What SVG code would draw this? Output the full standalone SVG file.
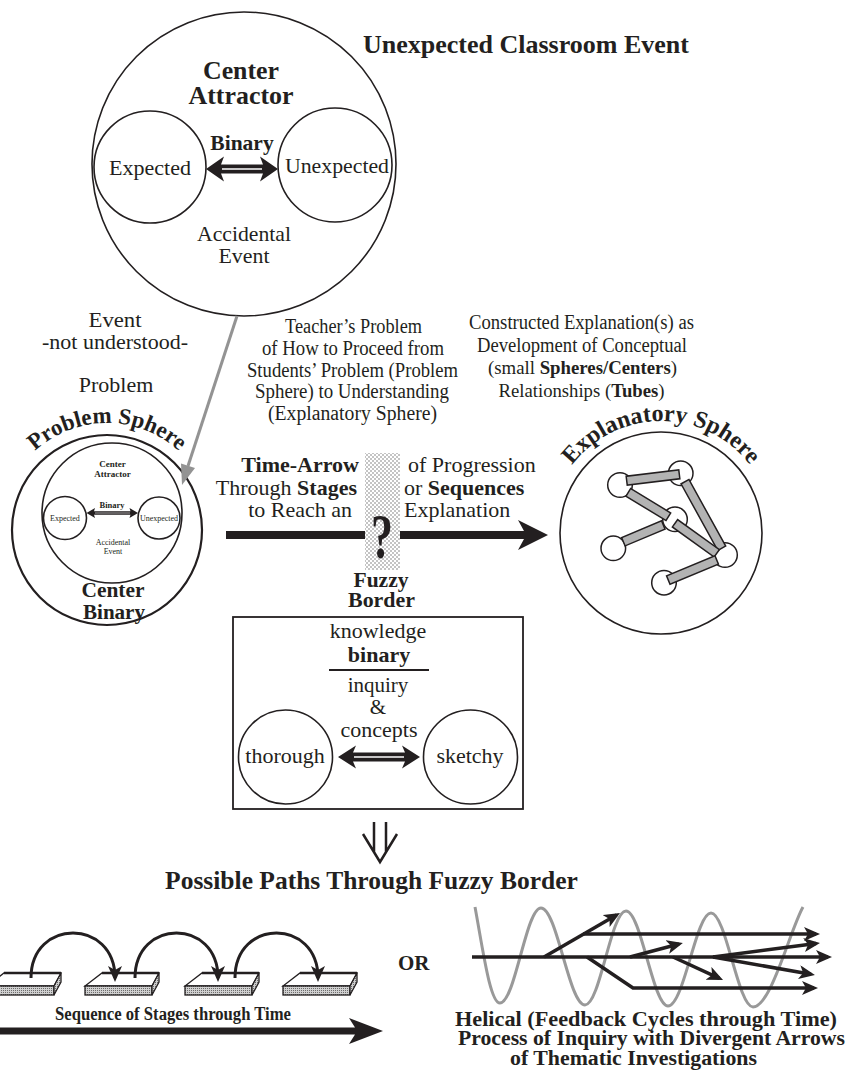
<svg xmlns="http://www.w3.org/2000/svg" width="849" height="1075" viewBox="0 0 849 1075">
<defs>
<style>
text{font-family:"Liberation Serif","Times New Roman",serif;fill:#231f20}
.b{font-weight:bold}
.m{text-anchor:middle}
.e{text-anchor:end}
.ln{fill:none;stroke:#231f20;stroke-width:1.6}
.blk{fill:#231f20}
.wl{stroke:#fff;fill:none}
.tube{fill:#b3b3b3;stroke:#231f20;stroke-width:1.5}
.node{fill:#fff;stroke:#231f20;stroke-width:1.5}
.harrow{fill:none;stroke:#231f20;stroke-width:3.5;marker-end:url(#ah)}
.slabtop{fill:#fff;stroke:#231f20;stroke-width:1.3}
.slabface{fill:url(#hatch);stroke:#231f20;stroke-width:1.3}
.d{font-size:20px}
</style>
<marker id="ah" markerUnits="userSpaceOnUse" markerWidth="18" markerHeight="16" refX="12" refY="7" orient="auto"><path d="M0,0 L16,7 L0,14 L4,7 Z" fill="#231f20"/></marker>
<pattern id="dots" width="4" height="4" patternUnits="userSpaceOnUse"><rect width="4" height="4" fill="#fff"/><circle cx="1" cy="1" r="0.8" fill="#7a7a7a"/><circle cx="3" cy="3" r="0.8" fill="#7a7a7a"/></pattern>
<pattern id="hatch" width="2" height="2" patternUnits="userSpaceOnUse"><rect width="2" height="2" fill="#d0d0d0"/><rect width="1" height="1" fill="#6d6d6d"/></pattern>
<path id="psArc" d="M 0 530 A 107 107 0 0 1 214 530"/>
<path id="esArc" d="M 549 533 A 112 112 0 0 1 773 533"/>
<g id="slab">
<polygon class="slabtop" points="17,973 74,973 67,986 0,986"/>
<rect class="slabface" x="0" y="986" width="67" height="9"/>
<polygon class="slabface" points="67,986 74,973 74,982 67,995"/>
<line x1="17" y1="973" x2="74" y2="973" stroke="#231f20" stroke-width="2.6"/>
</g>
</defs>
<rect width="849" height="1075" fill="#fff"/>

<text x="363" y="53" class="b" font-size="26">Unexpected Classroom Event</text>

<g id="event-circle">
<circle cx="244" cy="164" r="152" class="ln"/>
<circle cx="150" cy="167" r="56" class="ln"/>
<circle cx="335" cy="165" r="57" class="ln"/>
<text x="241" y="79" class="b m" font-size="25" textLength="76" lengthAdjust="spacingAndGlyphs">Center</text>
<text x="241" y="104" class="b m" font-size="25" textLength="105" lengthAdjust="spacingAndGlyphs">Attractor</text>
<text x="242" y="150" class="b m" font-size="21.5">Binary</text>
<text x="150" y="175" class="m" font-size="22">Expected</text>
<text x="337" y="173" class="m" font-size="22" textLength="104" lengthAdjust="spacingAndGlyphs">Unexpected</text>
<text x="244" y="241" class="m" font-size="21" textLength="94" lengthAdjust="spacingAndGlyphs">Accidental</text>
<text x="244" y="263" class="m" font-size="21" textLength="51" lengthAdjust="spacingAndGlyphs">Event</text>
<polygon class="blk" points="206,169 224,156.5 221,164.5 263,164.5 260,156.5 278,169 260,181.5 263,173.5 221,173.5 224,181.5"/>
<path class="wl" d="M222 169 H262" stroke-width="1.5"/>
</g>

<g id="problem-labels">
<text x="115" y="327" class="m" font-size="21" textLength="53" lengthAdjust="spacingAndGlyphs">Event</text>
<text x="115" y="349" class="m" font-size="21" textLength="146" lengthAdjust="spacingAndGlyphs">-not understood-</text>
<text x="116" y="392" class="m" font-size="22">Problem</text>
</g>

<g id="teacher-problem">
<text class="m d" x="353.5" y="333" textLength="137" lengthAdjust="spacingAndGlyphs">Teacher’s Problem</text>
<text class="m d" x="353" y="355" textLength="182" lengthAdjust="spacingAndGlyphs">of How to Proceed from</text>
<text class="m d" x="352.5" y="377" textLength="211" lengthAdjust="spacingAndGlyphs">Students’ Problem (Problem</text>
<text class="m d" x="352" y="398" textLength="194" lengthAdjust="spacingAndGlyphs">Sphere) to Understanding</text>
<text class="m d" x="352.5" y="420" textLength="169" lengthAdjust="spacingAndGlyphs">(Explanatory Sphere)</text>
</g>

<g id="constructed-explanation">
<text class="m d" x="581.5" y="329" textLength="225" lengthAdjust="spacingAndGlyphs">Constructed Explanation(s) as</text>
<text class="m d" x="582" y="352" textLength="210" lengthAdjust="spacingAndGlyphs">Development of Conceptual</text>
<text class="m" font-size="18.8" x="582.5" y="374">(small <tspan class="b">Spheres/Centers</tspan>)</text>
<text class="m" font-size="18.7" x="581.5" y="397">Relationships (<tspan class="b">Tubes</tspan>)</text>
</g>

<g id="problem-sphere">
<circle cx="107" cy="530" r="95" fill="none" stroke="#231f20" stroke-width="2.2"/>
<text class="b" font-size="23"><textPath href="#psArc" startOffset="50%" text-anchor="middle">Problem Sphere</textPath></text>
<circle cx="112" cy="513" r="70" class="ln" stroke-width="1.3"/>
<circle cx="65" cy="518" r="21.5" class="ln" stroke-width="1.1"/>
<circle cx="159" cy="518" r="21" class="ln" stroke-width="1.1"/>
<text x="112.5" y="467" class="b m" font-size="9">Center</text>
<text x="112.5" y="477" class="b m" font-size="9">Attractor</text>
<text x="112" y="508" class="b m" font-size="8.5">Binary</text>
<text x="65" y="521" class="m" font-size="8">Expected</text>
<text x="159" y="521" class="m" font-size="8">Unexpected</text>
<text x="113" y="545" class="m" font-size="8">Accidental</text>
<text x="113" y="554" class="m" font-size="8">Event</text>
<polygon class="blk" points="86.5,513 95,508 94,511.2 130.5,511.2 129.5,508 138,513 129.5,518 130.5,514.8 94,514.8 95,518"/>
<path class="wl" d="M95 513 H130" stroke-width="0.6"/>
<text x="113" y="597" class="b m" font-size="20" textLength="63" lengthAdjust="spacingAndGlyphs">Center</text>
<text x="114" y="619" class="b m" font-size="20" textLength="62" lengthAdjust="spacingAndGlyphs">Binary</text>
</g>

<g id="explanatory-sphere">
<circle cx="661" cy="533" r="101" class="ln"/>
<text class="b" font-size="24"><textPath href="#esArc" startOffset="50%" text-anchor="middle">Explanatory Sphere</textPath></text>
<circle class="node" cx="620" cy="485" r="12.3"/>
<circle class="node" cx="680.7" cy="473.3" r="12.3"/>
<circle class="node" cx="675" cy="519.3" r="12.3"/>
<circle class="node" cx="613.3" cy="548.3" r="12.3"/>
<circle class="node" cx="725" cy="555" r="12.3"/>
<circle class="node" cx="664" cy="582.7" r="12.3"/>
<rect class="tube" x="0" y="-4.5" width="53" height="9" transform="translate(626.7 480.7) rotate(-6.94)"/>
<rect class="tube" x="0" y="-4.5" width="46.9" height="9" transform="translate(628.3 492.3) rotate(31.4)"/>
<rect class="tube" x="0" y="-4.5" width="76" height="9" transform="translate(685 481.7) rotate(61.1)"/>
<rect class="tube" x="0" y="-4.5" width="43.3" height="9" transform="translate(663.3 525) rotate(157.3)"/>
<rect class="tube" x="0" y="-4.5" width="51.4" height="9" transform="translate(675 523.3) rotate(35.7)"/>
<rect class="tube" x="0" y="-4.5" width="52.4" height="9" transform="translate(716.7 560) rotate(157.5)"/>
</g>

<g id="connectors">
<line x1="237" y1="316" x2="188" y2="466" stroke="#939393" stroke-width="3"/>
<polygon points="182,485 195,468 181,463.5" fill="#939393"/>
<polygon class="blk" points="226,531 524,531 518,520 548,535 518,550 524,539 226,539"/>
<path d="M374 822 V852 M386 822 V852 M363 834 L380 862 L397 834" fill="none" stroke="#231f20" stroke-width="2.5"/>
</g>

<g id="time-arrow-labels">
<text x="359" y="472" class="b e" font-size="22">Time-Arrow</text>
<text x="357" y="495" class="e" font-size="22">Through <tspan class="b">Stages</tspan></text>
<text x="352" y="517" class="e" font-size="22">to Reach an</text>
<text x="408" y="472" font-size="22">of Progression</text>
<text x="404" y="495" font-size="22">or <tspan class="b">Sequences</tspan></text>
<text x="404" y="517" font-size="22">Explanation</text>
</g>

<g id="fuzzy-border">
<rect x="365" y="453" width="35" height="117" fill="url(#dots)"/>
<text x="382" y="558" class="b m" font-size="63" textLength="22" lengthAdjust="spacingAndGlyphs">?</text>
<text x="381" y="587" class="b m" font-size="20" textLength="55" lengthAdjust="spacingAndGlyphs">Fuzzy</text>
<text x="381.5" y="607" class="b m" font-size="20" textLength="67" lengthAdjust="spacingAndGlyphs">Border</text>
</g>

<g id="knowledge-binary">
<rect x="233" y="617" width="290" height="192" fill="none" stroke="#231f20" stroke-width="1.8"/>
<text x="378" y="638" class="m" font-size="22">knowledge</text>
<text x="379" y="662" class="b m" font-size="22">binary</text>
<line x1="329" y1="670" x2="429" y2="670" stroke="#231f20" stroke-width="2"/>
<text x="378" y="692" class="m" font-size="21">inquiry</text>
<text x="378" y="714" class="m" font-size="21">&amp;</text>
<text x="379" y="737" class="m" font-size="22">concepts</text>
<circle cx="285.5" cy="757" r="47" class="ln"/>
<circle cx="470.5" cy="757" r="47" class="ln"/>
<text x="285" y="763" class="m" font-size="22">thorough</text>
<text x="470" y="763" class="m" font-size="22">sketchy</text>
<polygon class="blk" points="338,757 356,745.5 353,752.5 405,752.5 402,745.5 420,757 402,768.5 405,761.5 353,761.5 356,768.5"/>
<path class="wl" d="M354 757 H404" stroke-width="1.5"/>
</g>

<text x="371.5" y="889" class="b m" font-size="25.5">Possible Paths Through Fuzzy Border</text>

<g id="stage-sequence">
<use href="#slab" x="-13"/>
<use href="#slab" x="85"/>
<use href="#slab" x="185"/>
<use href="#slab" x="283"/>
<path d="M31 978 C31 918 115 918 115 978" fill="none" stroke="#231f20" stroke-width="3" marker-end="url(#ah)"/>
<path d="M135 978 C135 918 218 918 218 978" fill="none" stroke="#231f20" stroke-width="3" marker-end="url(#ah)"/>
<path d="M235 978 C235 918 318 918 318 978" fill="none" stroke="#231f20" stroke-width="3" marker-end="url(#ah)"/>
<text x="55" y="1020" class="b" font-size="18" textLength="236" lengthAdjust="spacingAndGlyphs">Sequence of Stages through Time</text>
<polygon class="blk" points="0,1027.5 355,1027.5 349,1018 383,1031 349,1044 355,1034.5 0,1034.5"/>
</g>

<text x="398" y="970" class="b" font-size="21">OR</text>

<g id="helical">
<path d="M475 907 C483 950 490 1003 500 1003 C515 1003 526 908 541 908 C557 908 569 1005 585 1005 C600 1005 611 911 626 911 C641 911 653 1006 668 1006 C684 1006 696 913 711 913 C726 913 738 1007 753 1007 C771 1007 790 930 803 907" fill="none" stroke="#999" stroke-width="3"/>
<path class="harrow" d="M472 957 L828 957"/>
<path class="harrow" d="M544 957 L616.5 915"/>
<path class="harrow" d="M583 934 L816 934"/>
<path class="harrow" d="M587 957 L633 988 L814 988"/>
<path class="harrow" d="M630 957 L679 944"/>
<path class="harrow" d="M673 957 L719.4 978.3"/>
<path class="harrow" d="M713 957 L816 943.5"/>
<path class="harrow" d="M713 957 L811 974.3"/>
<text x="455" y="1026" class="b" font-size="20.5" textLength="382" lengthAdjust="spacingAndGlyphs">Helical (Feedback Cycles through Time)</text>
<text x="458" y="1045" class="b" font-size="20.5" textLength="387" lengthAdjust="spacingAndGlyphs">Process of Inquiry with Divergent Arrows</text>
<text x="510" y="1065" class="b" font-size="20.5" textLength="247" lengthAdjust="spacingAndGlyphs">of Thematic Investigations</text>
</g>
</svg>
